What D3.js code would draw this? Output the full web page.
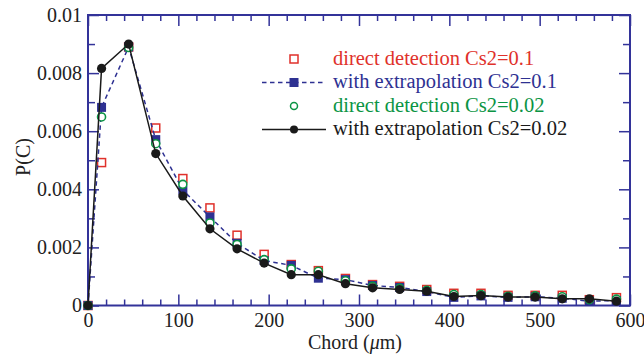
<!DOCTYPE html>
<html>
<head>
<meta charset="utf-8">
<script src="https://cdn.jsdelivr.net/npm/d3@7"></script>
<style>
  body { margin: 0; background: #fff; }
  svg text { font-family: "Liberation Serif", "Times New Roman", serif; }
  .axis path { display: none; }
  .axis line { stroke: #333399; stroke-width: 1.5; }
  .axis text { font-size: 20px; fill: #222; }
</style>
</head>
<body>
<svg id="chart" width="644" height="356"></svg>
<script>
/*
P(C) vs chord length, four detection variants
*/

// chord positions (um)
const chords = [0, 15, 45, 75, 105, 135, 165, 195, 225, 255, 285, 315, 345, 375, 405, 435, 465, 495, 525, 555, 585];

// direct detection Cs2=0.1
const directHigh = [0, 0.00492, 0.0089, 0.00611, 0.00437, 0.00336, 0.00242, 0.00176, 0.00141, 0.0012, 0.00093, 0.00072, 0.00066, 0.00055, 0.00042, 0.00042, 0.00035, 0.00035, 0.00035, 0.0002, 0.00027];
// with extrapolation Cs2=0.1
const extrapHigh = [0, 0.00682, 0.0089, 0.00571, 0.00397, 0.00305, 0.00214, 0.00155, 0.00138, 0.00094, 0.00089, 0.00069, 0.00062, 0.00048, 0.00028, 0.00033, 0.00028, 0.0003, 0.00025, 0.00015, 0.00017];
// direct detection Cs2=0.02
const directLow = [0, 0.00649, 0.00888, 0.00557, 0.00417, 0.00284, 0.0021, 0.00158, 0.00126, 0.00118, 0.00085, 0.00066, 0.00059, 0.00052, 0.00038, 0.00038, 0.00032, 0.00033, 0.0003, 0.0002, 0.00022];
// with extrapolation Cs2=0.02
const extrapLow = [0, 0.00816, 0.009, 0.00523, 0.00377, 0.00264, 0.00195, 0.00146, 0.00106, 0.00106, 0.00075, 0.00061, 0.00055, 0.00049, 0.00031, 0.00034, 0.00029, 0.00029, 0.00023, 0.00023, 0.00015];

const xMajor = [0, 100, 200, 300, 400, 500, 600];
const yMajor = [0, 0.002, 0.004, 0.006, 0.008, 0.01];
const yLabels = ["0", "0.002", "0.004", "0.006", "0.008", "0.01"];

const legendLabels = [
  "direct detection Cs2=0.1",
  "with extrapolation Cs2=0.1",
  "direct detection Cs2=0.02",
  "with extrapolation Cs2=0.02"
];

const red = "#e0312b", blue = "#2e3192", green = "#0b9444", black = "#1a1a1a";

const svg = d3.select("#chart");
const plotLeft = 88, plotRight = 630, plotTop = 15, plotBottom = 305.5;

const x = d3.scaleLinear().domain([0, 600]).range([plotLeft, plotRight]);
const y = d3.scaleLinear().domain([0, 0.01]).range([plotBottom, plotTop]);

const xMinor = d3.range(0, 601, 20).filter((v) => v % 100 !== 0);
const yMinor = d3.range(0.001, 0.01, 0.002);

// frame
svg.append("rect")
  .attr("x", plotLeft).attr("y", plotTop)
  .attr("width", plotRight - plotLeft).attr("height", plotBottom - plotTop)
  .attr("fill", "none").attr("stroke", "#333399").attr("stroke-width", 2);

// bottom axis with labels
svg.append("g").attr("class", "axis")
  .attr("transform", `translate(0,${plotBottom})`)
  .call(d3.axisBottom(x).tickValues(xMajor).tickSize(-11).tickPadding(7).tickFormat(d3.format("d")));
svg.append("g").attr("class", "axis")
  .attr("transform", `translate(0,${plotBottom})`)
  .call(d3.axisBottom(x).tickValues(xMinor).tickSize(-6).tickFormat(""));
// top axis
svg.append("g").attr("class", "axis")
  .attr("transform", `translate(0,${plotTop})`)
  .call(d3.axisTop(x).tickValues(xMajor).tickSize(-11).tickFormat(""));
svg.append("g").attr("class", "axis")
  .attr("transform", `translate(0,${plotTop})`)
  .call(d3.axisTop(x).tickValues(xMinor).tickSize(-6).tickFormat(""));

// left axis with labels
svg.append("g").attr("class", "axis")
  .attr("transform", `translate(${plotLeft},0)`)
  .call(d3.axisLeft(y).tickValues(yMajor).tickSize(-11).tickPadding(6).tickFormat((d, i) => yLabels[i]));
svg.append("g").attr("class", "axis")
  .attr("transform", `translate(${plotLeft},0)`)
  .call(d3.axisLeft(y).tickValues(yMinor).tickSize(-7).tickFormat(""));
// right axis
svg.append("g").attr("class", "axis")
  .attr("transform", `translate(${plotRight},0)`)
  .call(d3.axisRight(y).tickValues(yMajor).tickSize(-11).tickFormat(""));
svg.append("g").attr("class", "axis")
  .attr("transform", `translate(${plotRight},0)`)
  .call(d3.axisRight(y).tickValues(yMinor).tickSize(-7).tickFormat(""));

// axis titles
const xt = svg.append("text")
  .attr("x", 355).attr("y", 349)
  .attr("text-anchor", "middle")
  .attr("font-size", 20).attr("fill", "#222");
xt.append("tspan").text("Chord (");
xt.append("tspan").attr("font-style", "italic").text("\u03bc");
xt.append("tspan").text("m)");

svg.append("text")
  .attr("transform", "translate(29.5,157) rotate(-90)")
  .attr("text-anchor", "middle")
  .attr("font-size", 20).attr("fill", "#222")
  .text("P(C)");

const pts = (vals) => chords.map((c, i) => [c, vals[i]]);
const line = d3.line().x((d) => x(d[0])).y((d) => y(d[1]));

// red open squares
svg.append("g").selectAll("rect")
  .data(pts(directHigh)).enter().append("rect")
  .attr("x", (d) => x(d[0]) - 4).attr("y", (d) => y(d[1]) - 4)
  .attr("width", 8).attr("height", 8)
  .attr("fill", "#fff").attr("stroke", red).attr("stroke-width", 1.5);

// blue dashed line + filled squares
svg.append("path").datum(pts(extrapHigh))
  .attr("d", line).attr("fill", "none")
  .attr("stroke", blue).attr("stroke-width", 1.5).attr("stroke-dasharray", "4.5,3.5");
svg.append("g").selectAll("rect")
  .data(pts(extrapHigh)).enter().append("rect")
  .attr("x", (d) => x(d[0]) - 4.5).attr("y", (d) => y(d[1]) - 4.5)
  .attr("width", 9).attr("height", 9)
  .attr("fill", blue);

// green open circles
svg.append("g").selectAll("circle")
  .data(pts(directLow)).enter().append("circle")
  .attr("cx", (d) => x(d[0])).attr("cy", (d) => y(d[1])).attr("r", 4)
  .attr("fill", "#fff").attr("stroke", green).attr("stroke-width", 1.6);

// black solid line + filled circles
svg.append("path").datum(pts(extrapLow))
  .attr("d", line).attr("fill", "none")
  .attr("stroke", black).attr("stroke-width", 1.5);
svg.append("g").selectAll("circle")
  .data(pts(extrapLow)).enter().append("circle")
  .attr("cx", (d) => x(d[0])).attr("cy", (d) => y(d[1])).attr("r", 4.6)
  .attr("fill", black);

// legend
const legY = [59, 82.5, 106, 129.5];
const legColors = [red, blue, green, black];
const lg = svg.append("g");
lg.append("rect").attr("x", 290).attr("y", legY[0] - 4).attr("width", 8).attr("height", 8)
  .attr("fill", "#fff").attr("stroke", red).attr("stroke-width", 1.5);
lg.append("line").attr("x1", 262).attr("x2", 326).attr("y1", legY[1]).attr("y2", legY[1])
  .attr("stroke", blue).attr("stroke-width", 1.5).attr("stroke-dasharray", "4.5,3.5");
lg.append("rect").attr("x", 289.5).attr("y", legY[1] - 4.5).attr("width", 9).attr("height", 9).attr("fill", blue);
lg.append("circle").attr("cx", 294).attr("cy", legY[2]).attr("r", 3.5)
  .attr("fill", "#fff").attr("stroke", green).attr("stroke-width", 1.5);
lg.append("line").attr("x1", 262).attr("x2", 326).attr("y1", legY[3]).attr("y2", legY[3])
  .attr("stroke", black).attr("stroke-width", 1.5);
lg.append("circle").attr("cx", 294).attr("cy", legY[3]).attr("r", 4).attr("fill", black);

lg.selectAll("text").data(legendLabels).enter().append("text")
  .attr("x", 333).attr("y", (d, i) => legY[i] + 5.5)
  .attr("font-size", 20.5)
  .attr("fill", (d, i) => legColors[i])
  .text((d) => d);
</script>
</body>
</html>
